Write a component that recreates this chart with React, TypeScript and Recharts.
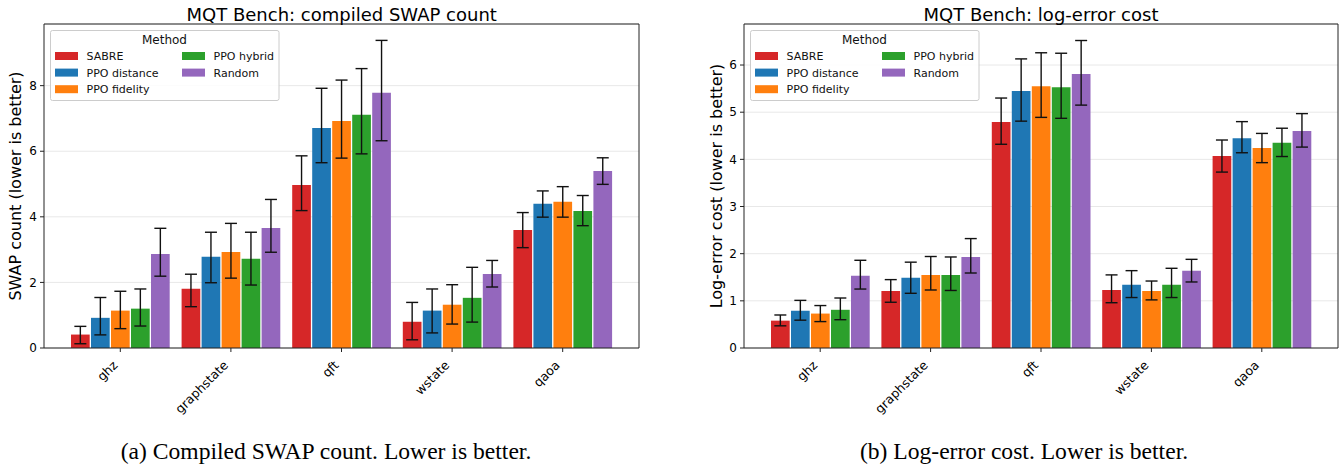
import React from 'react';
import { BarChart, Bar, XAxis, YAxis, CartesianGrid, ErrorBar, Legend } from 'recharts';

const categories = ['ghz', 'graphstate', 'qft', 'wstate', 'qaoa'];
const methods = ['SABRE', 'PPO distance', 'PPO fidelity', 'PPO hybrid', 'Random'];
const colors = ['#d62728', '#1f77b4', '#ff7f0e', '#2ca02c', '#9467bd'];

// Compiled SWAP count: mean, lower and upper error-bar ends (per method, per category)
const swapMean = [
  [0.41, 1.81, 4.97, 0.80, 3.60],
  [0.92, 2.78, 6.71, 1.14, 4.40],
  [1.14, 2.93, 6.92, 1.32, 4.46],
  [1.20, 2.72, 7.11, 1.53, 4.18],
  [2.87, 3.66, 7.78, 2.26, 5.40],
];
const swapLow = [
  [0.13, 1.26, 4.19, 0.25, 3.06],
  [0.40, 1.99, 5.65, 0.46, 3.99],
  [0.59, 2.13, 5.79, 0.73, 3.99],
  [0.67, 1.92, 5.92, 0.79, 3.73],
  [2.19, 2.92, 6.32, 1.86, 4.99],
];
const swapHigh = [
  [0.66, 2.25, 5.86, 1.39, 4.13],
  [1.54, 3.53, 7.92, 1.80, 4.79],
  [1.73, 3.80, 8.17, 1.93, 4.92],
  [1.80, 3.53, 8.52, 2.46, 4.65],
  [3.65, 4.53, 9.38, 2.67, 5.80],
];

// Log-error cost
const errMean = [
  [0.58, 1.21, 4.79, 1.23, 4.07],
  [0.79, 1.49, 5.45, 1.34, 4.45],
  [0.73, 1.55, 5.55, 1.21, 4.24],
  [0.81, 1.55, 5.53, 1.34, 4.35],
  [1.53, 1.93, 5.81, 1.64, 4.60],
];
const errLow = [
  [0.47, 0.97, 4.32, 0.96, 3.73],
  [0.59, 1.16, 4.81, 1.07, 4.14],
  [0.56, 1.23, 4.89, 1.02, 3.93],
  [0.60, 1.22, 4.87, 1.07, 4.06],
  [1.25, 1.59, 5.15, 1.40, 4.26],
];
const errHigh = [
  [0.70, 1.45, 5.30, 1.55, 4.41],
  [1.01, 1.82, 6.13, 1.64, 4.80],
  [0.90, 1.94, 6.26, 1.42, 4.55],
  [1.06, 1.93, 6.25, 1.69, 4.66],
  [1.86, 2.32, 6.52, 1.88, 4.97],
];

const swapTicks = [0, 2, 4, 6, 8];
const errTicks = [0, 1, 2, 3, 4, 5, 6];
const swapMax = 9.88;
const errMax = 6.87;

const titles = ['MQT Bench: compiled SWAP count', 'MQT Bench: log-error cost'];
const yLabels = ['SWAP count (lower is better)', 'Log-error cost (lower is better)'];
const captions = ['(a) Compiled SWAP count. Lower is better.', '(b) Log-error cost. Lower is better.'];

function buildRows(mean: number[][], low: number[][], high: number[][]) {
  return categories.map((c, i) => {
    const r: any = { cat: c };
    methods.forEach((_, j) => {
      r['v' + j] = mean[j][i];
      r['e' + j] = [mean[j][i] - low[j][i], high[j][i] - mean[j][i]];
    });
    return r;
  });
}

const XTick = (props: any) => {
  const { x, y, payload } = props;
  const ax = x - 2;
  const ay = y + 14;
  return (
    <text x={ax} y={ay} transform={`rotate(-45 ${ax} ${ay})`} textAnchor="end" fontSize={12.5} fill="#000">
      {payload.value}
    </text>
  );
};

const LegendBox = (props: any) => {
  const payload = [...(props.payload || [])].sort(
    (a: any, b: any) => methods.indexOf(a.value) - methods.indexOf(b.value)
  );
  return (
    <svg width={230} height={72} style={{ display: 'block' }}>
      <rect x={0.5} y={0.5} width={228.5} height={70} rx={2} fill="#fff" fillOpacity={0.85} stroke="#cccccc" />
      <text x={114.5} y={14} textAnchor="middle" fontSize={12} fill="#111">Method</text>
      {payload.map((p: any, i: number) => {
        const col = Math.floor(i / 3);
        const row = i % 3;
        const cy = 26 + row * 16.6;
        const px = col === 0 ? 5 : 132;
        return (
          <g key={i}>
            <rect x={px} y={cy - 4} width={23} height={8} fill={p.color} />
            <text x={px + 31.5} y={cy + 4} fontSize={11} fill="#111">{p.value}</text>
          </g>
        );
      })}
    </svg>
  );
};

function Panel(props: any) {
  const { rows, yMax, yTicks, yLabel, yAxisWidth, marginRight, labelX } = props;
  return (
    <BarChart
      width={671}
      height={465}
      data={rows}
      margin={{ top: 23, right: marginRight, bottom: 0, left: 0 }}
      barCategoryGap={6}
      barGap={1.3}
      barSize={18.7}
    >
      <CartesianGrid vertical={false} stroke="#e8e8e8" />
      <XAxis
        dataKey="cat"
        height={117}
        padding={{ left: 21, right: 21 }}
        interval={0}
        tickSize={4}
        tickMargin={0}
        tick={<XTick />}
        axisLine={{ stroke: '#222' }}
        tickLine={{ stroke: '#222' }}
      />
      <XAxis
        xAxisId="top"
        dataKey="cat"
        orientation="top"
        height={1}
        padding={{ left: 21, right: 21 }}
        tick={false}
        tickLine={false}
        axisLine={{ stroke: '#222' }}
      />
      <YAxis
        width={yAxisWidth}
        domain={[0, yMax]}
        ticks={yTicks}
        tickSize={4}
        tickMargin={3}
        tick={{ fill: '#000', fontSize: 12 }}
        axisLine={{ stroke: '#222' }}
        tickLine={{ stroke: '#222' }}
        label={{
          content: () => (
            <text
              x={labelX}
              y={186}
              transform={`rotate(-90 ${labelX} 186)`}
              textAnchor="middle"
              dominantBaseline="central"
              fontSize={16}
              fill="#000"
            >
              {yLabel}
            </text>
          ),
        }}
      />
      <YAxis
        yAxisId="r"
        orientation="right"
        width={1}
        domain={[0, yMax]}
        ticks={yTicks}
        tick={false}
        tickLine={false}
        axisLine={{ stroke: '#222' }}
      />
      <Legend
        layout="horizontal"
        verticalAlign="middle"
        align="center"
        content={<LegendBox />}
        wrapperStyle={{ position: 'absolute', left: yAxisWidth + 6, top: 30, width: 230, height: 72 }}
      />
      {methods.map((m, j) => (
        <Bar key={m} dataKey={'v' + j} name={m} fill={colors[j]} isAnimationActive={false}>
          <ErrorBar
            dataKey={'e' + j}
            width={6}
            stroke="#111"
            strokeWidth={1.4}
            direction="y"
            isAnimationActive={false}
          />
        </Bar>
      ))}
    </BarChart>
  );
}

export default function App() {
  const swapRows = buildRows(swapMean, swapLow, swapHigh);
  const errRows = buildRows(errMean, errLow, errHigh);
  return (
    <div
      style={{
        position: 'fixed',
        left: 0,
        top: 0,
        width: 1342,
        height: 465,
        background: '#fff',
        fontFamily: '"DejaVu Sans", sans-serif',
      }}
    >
      <div style={{ position: 'absolute', left: 0, top: 0 }}>
        <Panel rows={swapRows} yMax={swapMax} yTicks={swapTicks} yLabel={yLabels[0]} yAxisWidth={44} marginRight={31} labelX={15} />
      </div>
      <div style={{ position: 'absolute', left: 671, top: 0 }}>
        <Panel rows={errRows} yMax={errMax} yTicks={errTicks} yLabel={yLabels[1]} yAxisWidth={73} marginRight={3} labelX={45} />
      </div>
      <svg
        width={1342}
        height={465}
        style={{ position: 'absolute', left: 0, top: 0, pointerEvents: 'none' }}
      >
        <text x={341.7} y={21} textAnchor="middle" fontSize={18} fill="#000" fontFamily='"DejaVu Sans", sans-serif'>
          {titles[0]}
        </text>
        <text x={1041} y={21} textAnchor="middle" fontSize={18} fill="#000" fontFamily='"DejaVu Sans", sans-serif'>
          {titles[1]}
        </text>
        <text x={326} y={459} textAnchor="middle" fontSize={23.6} fill="#000" fontFamily='"Liberation Serif", serif'>
          {captions[0]}
        </text>
        <text x={1024} y={459} textAnchor="middle" fontSize={23.6} fill="#000" fontFamily='"Liberation Serif", serif'>
          {captions[1]}
        </text>
      </svg>
    </div>
  );
}
